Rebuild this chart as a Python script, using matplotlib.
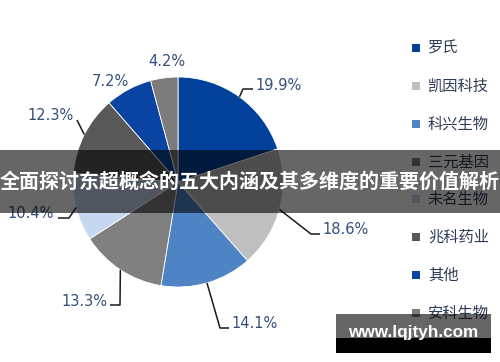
import numpy as np
import matplotlib
matplotlib.use("Agg")
import matplotlib.pyplot as plt
from matplotlib.patches import Rectangle

# ---------------- data ----------------
categories = ["罗氏", "凯因科技", "科兴生物", "三元基因", "未名生物", "兆科药业", "其他", "安科生物"]
shares = [19.9, 18.6, 14.1, 13.3, 10.4, 12.3, 7.2, 4.2]
colors = ["#02419B", "#BFBFBF", "#4F84C4", "#808080", "#C6D7EF", "#595959", "#0A44A3", "#7C7C7C"]
banner_text = "全面探讨东超概念的五大内涵及其多维度的重要价值解析"
watermark = "www.lqjtyh.com"

# ---------------- layout (pixel coords, y from top) ----------------
W, H = 500, 362
cx, cy, R = 178, 182, 105
# label text anchor (x, y, ha) and leader-line elbow/end points (None = no line)
label_layout = [
    ((255, 86, "left"), [(243, 89), (253, 89)]),
    ((322, 230, "left"), [(311, 234), (320, 234)]),
    ((231, 323, "left"), [(220, 328), (229, 328)]),
    ((107, 301, "right"), [(120, 305), (110, 305)]),
    ((54, 213, "right"), [(69, 218), (58, 218)]),
    ((74, 115, "right"), [(77, 120)]),
    ((110, 81, "center"), None),
    ((167, 62, "center"), None),
]
legend_rows = [48, 86, 124, 162, 199, 237, 275, 313]

def Y(y):
    return H - y

fig = plt.figure(figsize=(5, 3.62), dpi=100)
ax = fig.add_axes([0, 0, 1, 1])

wedges, _ = ax.pie(shares, colors=colors, startangle=90, counterclock=False,
                   center=(cx, Y(cy)), radius=R,
                   wedgeprops=dict(edgecolor="white", linewidth=0.6))
ax.set_xlim(0, W)
ax.set_ylim(0, H)
ax.set_aspect("equal")
ax.axis("off")

label_color = "#34507A"
for w, v, (txt, line) in zip(wedges, shares, label_layout):
    mid = np.deg2rad((w.theta1 + w.theta2) / 2)
    ex, ey = cx + R * np.cos(mid), Y(cy) + R * np.sin(mid)
    if line is not None:
        xs = [ex] + [p[0] for p in line]
        ys = [ey] + [Y(p[1]) for p in line]
        ax.plot(xs, ys, color="#1a1a1a", lw=1.1, solid_capstyle="butt")
    tx, ty, ha = txt
    ax.text(tx, Y(ty), f"{v:.1f}%", ha=ha, va="center", fontsize=10.5,
            color=label_color, family="DejaVu Sans")

# legend
for cat, col, ry in zip(categories, colors, legend_rows):
    ax.add_patch(Rectangle((412, Y(ry) - 4), 8, 8, facecolor=col, edgecolor="none"))
    ax.text(428, Y(ry), cat, ha="left", va="center", fontsize=11,
            color="#2E3B55", family=["Noto Sans CJK SC", "DejaVu Sans"])

# banner overlay
ax.add_patch(Rectangle((0, Y(213)), W, 63, facecolor="black", alpha=0.6,
                       edgecolor="none", zorder=10))
ax.text(W / 2, Y(181), banner_text, ha="center", va="center", fontsize=14.4,
        fontweight="bold", color="white", zorder=11,
        family=["Noto Sans CJK SC", "DejaVu Sans"])

# watermark
ax.add_patch(Rectangle((336, Y(338)), 155, 24, facecolor="black", alpha=0.6,
                       edgecolor="none", zorder=10))
ax.add_patch(Rectangle((336, Y(353)), 155, 15, facecolor="black",
                       edgecolor="none", zorder=10))
ax.text(413, Y(333), watermark, ha="center", va="center", fontsize=12.3,
        fontweight="bold", color="white", zorder=11, family="Liberation Sans")

fig.savefig("out.png", dpi=100)
